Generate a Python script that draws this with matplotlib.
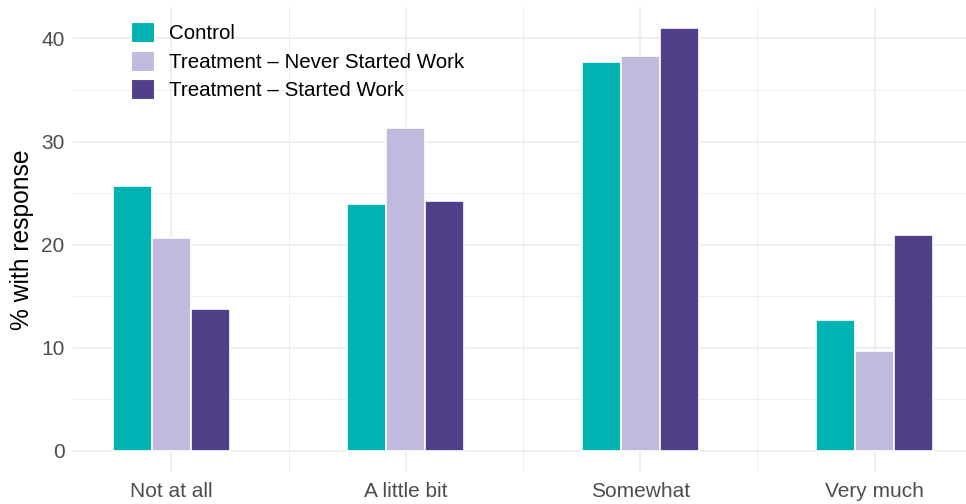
import numpy as np
import matplotlib.pyplot as plt
from matplotlib.patches import Patch

plt.rcParams["font.family"] = ["Liberation Sans", "DejaVu Sans"]

# ---- 数据 ----
categories = ["Not at all", "A little bit", "Somewhat", "Very much"]
groups = ["Control", "Treatment \u2013 Never Started Work", "Treatment \u2013 Started Work"]
control = [25.7, 23.9, 37.7, 12.7]
never_started = [20.6, 31.3, 38.3, 9.7]
started = [13.8, 24.2, 41.0, 20.9]
colors = ["#00B2B2", "#C2B9DE", "#523F8A"]

series = [control, never_started, started]

fig = plt.figure(figsize=(9.66, 5.04), dpi=100)
ax = fig.add_axes([73 / 966, 32 / 504, 893 / 966, 465 / 504])

x = np.arange(1, len(categories) + 1)
bw = 0.5 / 3
for i, (vals, col) in enumerate(zip(series, colors)):
    ax.bar(x + (i - 1) * bw, vals, width=bw, color=col, edgecolor="white",
           linewidth=1.2, zorder=3)

ax.set_xlim(0.58, 4.39)
ax.set_ylim(-2.05, 43.05)

ax.set_yticks([0, 10, 20, 30, 40])
ax.set_yticks([5, 15, 25, 35], minor=True)
ax.set_xticks(x)
ax.set_xticklabels(categories)
ax.set_xticks([1.5, 2.5, 3.5], minor=True)

ax.grid(which="major", color="#EBEBEB", linewidth=1.1, zorder=0)
ax.grid(which="minor", color="#EBEBEB", linewidth=0.6, zorder=0)
ax.set_axisbelow(True)
for s in ax.spines.values():
    s.set_visible(False)
ax.tick_params(which="both", length=0)
ax.tick_params(axis="both", labelsize=15, labelcolor="#4D4D4D")
ax.tick_params(axis="y", pad=6)
ax.tick_params(axis="x", pad=7)

ax.set_ylabel("% with response", fontsize=17.7, color="black", labelpad=5)

handles = [Patch(facecolor=c, edgecolor="white", linewidth=0.8) for c in colors]
leg = ax.legend(handles, groups, loc="upper left", bbox_to_anchor=(0.0555, 0.985),
                frameon=False, fontsize=14.8, handlelength=1.13, handleheight=1.13,
                labelspacing=0.36, handletextpad=0.75, borderaxespad=0)

fig.savefig("out.png", dpi=100)
